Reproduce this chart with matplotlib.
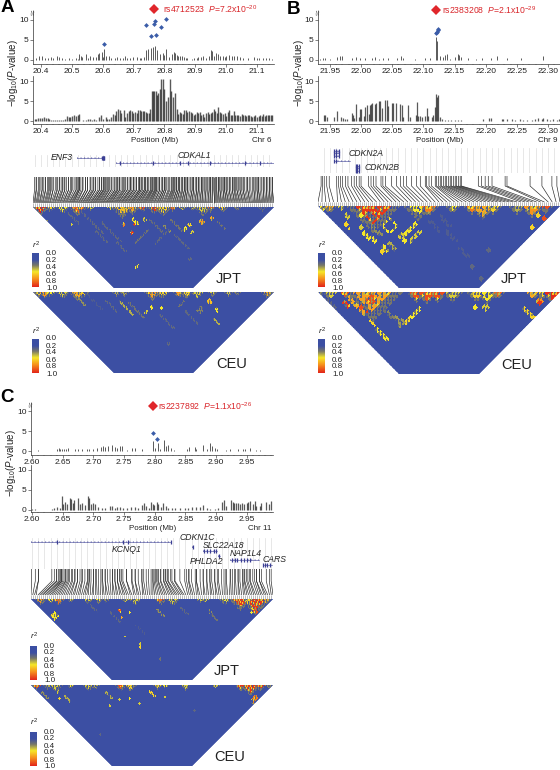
import numpy as np
import matplotlib
matplotlib.use("Agg")
import matplotlib.pyplot as plt
from matplotlib.colors import LinearSegmentedColormap
from matplotlib.collections import LineCollection
from matplotlib.patches import Polygon
from matplotlib.ticker import MultipleLocator, FormatStrFormatter

plt.rcParams['font.family'] = ['Liberation Sans', 'DejaVu Sans']
plt.rcParams['mathtext.fontset'] = 'custom'
plt.rcParams['mathtext.rm'] = 'Liberation Sans'
plt.rcParams['mathtext.it'] = 'Liberation Sans:italic'
plt.rcParams['axes.linewidth'] = 0.5

# ---------- association values ----------
A_top_pos = [20.385,20.395,20.405,20.415,20.425,20.432,20.44,20.452,20.46,20.47,20.478,20.49,20.50,20.515,20.522,20.525,20.53,20.535,20.545,20.552,20.56,20.57,20.578,20.585,20.59,20.597,20.603,20.606,20.612,20.62,20.628,20.64,20.648,20.655,20.665,20.672,20.68,20.69,20.70,20.71,20.72,20.725,20.735,20.74,20.747,20.757,20.762,20.77,20.775,20.785,20.795,20.80,20.805,20.815,20.825,20.83,20.835,20.84,20.845,20.85,20.858,20.865,20.87,20.875,20.89,20.895,20.905,20.91,20.92,20.925,20.935,20.945,20.95,20.955,20.96,20.968,20.975,20.98,20.99,20.995,21.0,21.01,21.02,21.027,21.035,21.045,21.055,21.07,21.09,21.10,21.105,21.12,21.13,21.14,21.15]
A_top_h = [.4,.9,1.0,.5,.6,.7,.6,.9,.7,.5,.3,.5,.2,.6,.3,1.6,.9,.7,1.5,.5,.9,.7,.8,1.5,1.7,2.1,.8,2.8,1.0,.9,.6,.6,.7,.5,.6,.9,.5,.4,.8,.7,.6,.4,.8,2.5,2.8,2.9,3.2,3.4,2.4,1.5,1.8,1.2,2.7,.8,1.6,2.0,1.8,1.3,1.1,.9,1.0,.8,.6,.4,.3,.4,.6,.8,.7,1.0,.5,.9,2.4,2.2,1.0,1.8,1.5,.9,1.0,.8,1.1,1.3,.9,1.1,1.0,.7,.5,.4,.7,.4,.6,.4,.6,.4,.3]
A_dia_pos = [20.606,20.741,20.758,20.768,20.771,20.773,20.79,20.805]
A_dia_h = [4.0,8.7,6.0,9.0,9.7,6.2,8.3,10.2]
A_bot_pos = [20.38,20.386,20.392,20.398,20.404,20.41,20.416,20.422,20.428,20.434,20.44,20.447,20.454,20.46,20.466,20.472,20.478,20.484,20.49,20.496,20.502,20.508,20.514,20.52,20.525,20.537,20.545,20.552,20.56,20.566,20.572,20.578,20.59,20.596,20.602,20.61,20.616,20.622,20.628,20.634,20.64,20.645,20.65,20.655,20.66,20.668,20.674,20.68,20.686,20.69,20.695,20.70,20.705,20.71,20.716,20.72,20.725,20.73,20.735,20.74,20.745,20.75,20.755,20.76,20.764,20.768,20.772,20.776,20.78,20.785,20.79,20.795,20.80,20.806,20.812,20.818,20.823,20.828,20.833,20.84,20.845,20.85,20.855,20.86,20.865,20.87,20.875,20.88,20.885,20.89,20.895,20.90,20.905,20.91,20.915,20.92,20.925,20.93,20.935,20.94,20.945,20.95,20.955,20.96,20.965,20.97,20.975,20.98,20.985,20.99,20.995,21.0,21.005,21.01,21.015,21.02,21.025,21.03,21.035,21.04,21.045,21.05,21.055,21.06,21.065,21.07,21.075,21.08,21.085,21.09,21.095,21.10,21.105,21.11,21.115,21.12,21.125,21.13,21.135,21.14,21.145,21.15]
A_bot_h = [.4,.6,.7,.8,.8,.9,.8,.8,.5,.3,.2,.2,.3,.2,.3,.3,.5,1.2,1.0,.9,1.3,1.4,1.2,1.6,1.7,.3,.3,.4,.4,.3,.4,.3,1.0,1.5,.4,.9,.6,.4,.9,1.7,1.4,2.5,3.0,2.7,2.0,2.8,1.0,2.0,2.4,2.7,2.4,1.9,2.3,2.0,2.8,2.8,2.6,2.5,2.5,2.3,2.0,1.9,3.0,7.5,7.5,7.5,7.5,6.5,7.0,8.0,10.5,10.5,8.0,5.0,6.0,10.5,7.4,6.0,7.0,3.0,1.7,2.3,2.0,1.7,2.8,2.7,2.3,2.4,2.2,2.1,1.4,1.7,2.2,1.9,2.2,1.6,1.8,.9,2.0,2.3,1.8,2.0,2.2,3.0,2.4,2.0,3.5,2.2,2.0,1.7,2.1,1.3,2.3,2.8,1.5,1.4,2.5,1.6,1.4,1.6,1.2,1.7,1.4,1.5,1.3,1.6,1.4,1.2,1.1,1.2,1.4,1.0,1.3,1.5,1.2,1.7,1.3,1.6,1.4,1.5,1.4,1.6]

B_top_pos = [21.935,21.939,21.943,21.95,21.961,21.967,21.970,21.985,21.992,21.999,22.007,22.017,22.023,22.028,22.036,22.044,22.057,22.064,22.068,22.087,22.103,22.111,22.120,22.122,22.127,22.131,22.135,22.138,22.143,22.151,22.155,22.157,22.161,22.171,22.185,22.194,22.208,22.218,22.234,22.257,22.291]
B_top_h = [.3,.4,.4,.2,.8,.9,1.1,.6,.7,.5,.4,.5,.7,.3,.5,.5,.5,.9,.5,.2,.4,.5,5.7,4.8,1.1,.8,1.3,1.6,.3,.7,1.6,1.2,.7,.4,.3,.6,.5,1.1,.4,.5,.9]
B_dia_pos = [22.120,22.122,22.123,22.124]
B_dia_h = [6.7,7.0,7.4,7.7]
B_bot_pos = [21.940,21.943,21.945,21.956,21.962,21.968,21.971,21.975,21.977,21.985,21.987,21.989,21.992,21.996,21.999,22.000,22.004,22.007,22.009,22.012,22.015,22.016,22.018,22.022,22.024,22.028,22.031,22.034,22.038,22.041,22.044,22.049,22.052,22.056,22.063,22.065,22.068,22.076,22.079,22.088,22.090,22.092,22.095,22.098,22.103,22.105,22.108,22.113,22.116,22.119,22.120,22.122,22.124,22.126,22.130,22.135,22.140,22.145,22.151,22.156,22.161,22.196,22.205,22.208,22.226,22.228,22.234,22.242,22.247,22.255,22.260,22.266,22.274,22.279,22.284,22.290,22.292,22.298,22.303,22.308,22.314,22.318]
B_bot_h = [1.4,1.4,1.0,.9,2.6,.9,.7,.6,.5,1.9,1.5,.8,4.3,1.0,3.0,2.9,1.2,3.4,4.0,1.8,4.0,4.3,4.4,4.2,4.6,5.0,5.0,3.2,5.2,5.2,3.8,4.6,4.4,4.4,4.2,4.0,1.0,4.0,1.0,1.4,4.7,1.3,1.2,1.1,1.3,3.2,1.3,1.1,1.5,3.5,6.8,6.0,6.6,1.0,.4,.3,.2,.2,.2,.3,.2,.5,.7,.7,.6,.5,.4,.4,.3,.4,.3,.3,.2,.5,.7,.5,.8,.5,.3,.5,.2,.5]
B_snps = [21.936,21.938,21.941,21.945,21.949,21.961,21.964,21.967,21.970,21.975,21.979,21.985,21.989,21.993,21.997,22.000,22.012,22.016,22.020,22.024,22.032,22.035,22.039,22.049,22.057,22.063,22.068,22.073,22.081,22.089,22.095,22.103,22.105,22.109,22.113,22.119,22.121,22.124,22.127,22.129,22.132,22.135,22.137,22.140,22.143,22.145,22.148,22.151,22.153,22.156,22.159,22.161,22.188,22.193,22.199,22.204,22.210,22.231,22.234,22.271,22.290,22.306,22.314]

C_top_pos = [2.610,2.640,2.643,2.646,2.648,2.652,2.655,2.659,2.670,2.674,2.681,2.690,2.693,2.700,2.705,2.712,2.715,2.719,2.723,2.731,2.735,2.739,2.743,2.746,2.754,2.763,2.768,2.779,2.797,2.801,2.805,2.809,2.815,2.818,2.821,2.826,2.832,2.852,2.856,2.866,2.868,2.879,2.885,2.890,2.893,2.898,2.902,2.916,2.923,2.936,2.944,2.947,2.955,2.966,2.971]
C_top_h = [.2,.5,.8,.6,.5,.6,.6,.7,.5,.6,.5,.4,.6,.6,.7,1.0,1.2,1.0,1.2,1.6,.9,.8,1.2,1.2,.3,.7,.8,.5,2.4,.8,1.9,.6,2.7,1.2,1.5,.8,.3,.5,.9,.9,.5,1.4,.4,1.9,1.3,.8,.5,.3,.4,.4,.5,.5,.8,.3,.2]
C_dia_pos = [2.797,2.804]
C_dia_h = [4.6,3.0]
C_bot_pos = [2.599,2.605,2.610,2.632,2.636,2.640,2.645,2.648,2.650,2.654,2.657,2.661,2.664,2.666,2.669,2.674,2.678,2.682,2.686,2.691,2.693,2.696,2.700,2.703,2.708,2.714,2.719,2.727,2.731,2.735,2.739,2.743,2.748,2.754,2.762,2.768,2.773,2.779,2.782,2.786,2.790,2.794,2.797,2.799,2.803,2.806,2.810,2.814,2.818,2.822,2.828,2.833,2.841,2.849,2.855,2.860,2.868,2.874,2.879,2.885,2.890,2.898,2.904,2.909,2.913,2.917,2.924,2.927,2.930,2.932,2.936,2.939,2.943,2.946,2.950,2.952,2.956,2.960,2.963,2.966,2.971,2.974,2.982,2.987,2.990]
C_bot_h = [.3,.2,.1,.3,.4,.7,.5,3.6,1.6,2.0,1.6,2.9,2.8,1.7,2.5,2.9,1.4,1.7,1.2,3.4,2.9,1.5,1.8,1.4,.8,.4,.6,.9,.9,.6,.7,.7,.4,.5,.8,.7,.5,1.2,1.7,.9,.6,1.9,1.6,1.3,2.0,1.5,.7,1.8,1.0,.6,.5,.4,.4,.5,.5,.7,.7,.8,1.2,.6,.3,.3,.4,2.0,2.5,1.0,2.5,2.0,1.8,1.7,1.7,1.6,1.7,1.4,1.8,2.1,2.2,1.4,2.2,1.0,1.0,1.8,1.9,1.6,2.2]

# ---------- genes: name, start, end, exons, row ----------
A_genes = [("ENF3",20.517,20.605,[20.598,20.600,20.602,20.604,20.605],158),
           ("CDKAL1",20.644,21.155,[20.657,20.763,20.851,20.878,20.949,21.062,21.11],163)]
B_genes = [("",21.957,21.964,[21.957,21.960,21.964],150.7),("",21.957,21.964,[21.957,21.960,21.964],153.3),
           ("",21.957,21.964,[21.957,21.960,21.964],156),("CDKN2A",21.957,21.983,[21.957,21.960],160.7),
           ("",21.992,21.997,[21.992,21.994,21.997],165.7),("",21.992,21.997,[21.992,21.994,21.997],168.3),
           ("CDKN2B",21.992,21.997,[21.992,21.994,21.997],171)]
C_genes = [("KCNQ1",2.598,2.826,[2.641,2.748,2.756,2.826],542),("CDKN1C",2.861,2.863,[2.862],547),
           ("SLC22A18",2.878,2.902,[2.880,2.886,2.890,2.897,2.900],551),("PHLDA2",2.904,2.906,[2.905],556),
           ("NAP1L4",2.923,2.970,[2.926,2.931,2.935,2.940,2.946,2.951,2.956],560),
           ("CARS",2.977,2.992,[2.977,2.980,2.983,2.988],565)]

# ---------- LD blocks: (mid, size, r2) triangles on the top edge, (mid, sep, a, b, r2) rectangles ----------
A_jpt_tri = [(8,8,1.0),(18,4,.6),(30,6,.55),(45,8,.85),(58,3,.5),(78,3,.5),(90,10,.65),(100,6,.75),(110,4,.9),(122,6,.95),(131,8,.6),(140,4,.9),(150,3,.5),(160,3,.5),(170,8,.5),(178,4,.85),(190,4,.6),(205,3,.4),(230,4,.3)]
A_jpt_rect = [(104,15,3,8,.55),(102,18,2,2,.95),(100,25,3,3,.95),(92,17,3,3,.8),(112,12,3,4,.5),(154,22,4,3,.55),(158,18,3,4,.6),(160,26,4,2,.5),(170,15,4,5,.75),(180,12,3,3,.7),(135,22,2,8,.4),(60,15,1,25,.3),(80,25,1,20,.3),(40,10,1,14,.3),(110,30,14,1,.35),(130,30,14,1,.3),(150,35,1,15,.3),(105,60,4,1,.55),(158,52,3,3,.3),(90,40,1,10,.3),(15,14,1,1,.4),(40,18,1,1,.5),(70,30,1,12,.3),(125,20,1,16,.32),(145,18,1,12,.35),(190,18,1,8,.35)]
A_ceu_tri = [(6,5,.6),(12,5,.75),(18,4,.55),(30,6,.5),(46,8,.7),(52,3,.6),(84,4,.45),(92,4,.45),(120,8,.75),(130,6,.6),(146,5,.75),(154,6,.6),(165,6,.5),(180,4,.5),(196,3,.5),(205,3,.4),(235,5,.7)]
A_ceu_rect = [(178,10,4,5,.65),(185,18,3,4,.55),(168,18,6,5,.38),(150,12,6,1,.35),(105,18,1,16,.35),(95,16,1,14,.45),(115,20,3,1,.5),(120,15,3,3,.55),(130,16,2,2,.55),(50,10,1,8,.4),(135,30,1,14,.3),(137,51,3,3,.3),(60,8,1,20,.25),(185,30,2,8,.45),(160,25,1,14,.3),(80,14,1,12,.3)]
B_jpt_tri = [(5,4,.55),(12,5,.7),(24,3,.5),(55,24,.95),(100,12,.55),(110,8,.8),(135,6,.55),(155,6,.8),(165,12,.7),(175,6,.6),(200,6,.45),(215,10,.75),(228,6,.9)]
B_jpt_rect = [(73,19,12,12,.55),(73,19,8,8,.1),(85,30,6,6,.5),(88,35,3,3,.55),(30,18,1,1,.6),(33,22,2,2,.6),(45,22,3,3,.5),(50,30,1,8,.55),(57,32,1,6,.55),(65,45,3,1,.6),(70,42,1,6,.55),(77,40,1,8,.45),(95,22,12,1,.55),(100,30,12,1,.5),(45,10,3,3,.55),(30,10,1,5,.5),(55,10,1,8,.35),(60,25,1,12,.4),(155,60,4,3,.3),(165,72,4,3,.3),(172,44,1,3,.3),(130,15,1,12,.25),(118,20,1,12,.25),(135,30,1,12,.25),(148,45,1,10,.25),(217,21,3,3,.6),(228,12,4,4,.9),(222,8,3,3,.6)]
B_ceu_tri = [(3,3,.4),(13,5,.5),(28,4,.9),(55,26,.72),(100,8,.9),(110,10,.9),(120,8,.9),(135,8,.5),(160,8,.6),(170,10,.55),(180,6,.85),(215,5,.7),(225,6,.6),(236,10,.98)]
B_ceu_rect = [(55,8,8,8,.9),(223,10,6,6,.75),(223,10,3,3,.95),(215,24,1,18,.6),(70,18,1,14,.35),(74,22,2,16,.4),(78,26,2,14,.38),(82,28,2,12,.42),(85,30,5,5,.42),(85,32,8,3,.42),(40,13,1,18,.7),(30,12,1,6,.95),(50,20,2,2,.95),(45,15,1,3,.9),(57,30,2,8,.6),(65,42,1,12,.55),(15,12,1,12,.3),(95,25,12,1,.6),(100,20,10,1,.55),(170,15,5,5,.5),(160,15,4,3,.55)]
C_jpt_tri = [(10,5,.75),(20,4,.55),(28,5,.85),(40,3,.5),(58,4,.5),(68,4,.55),(75,3,.4),(95,3,.5),(105,5,.5),(130,5,.85),(142,6,.5),(170,3,.5),(175,3,.5),(195,5,.55),(210,10,.95),(225,14,.95),(217,6,.6),(235,4,.7)]
C_jpt_rect = [(25,16,4,6,.55),(22,17,3,3,.6),(25,18,5,5,.55),(90,12,2,3,.9),(92,18,1,2,.7),(100,14,2,2,.55),(225,12,3,6,.9),(222,10,2,2,.6),(222,14,2,2,.55),(180,13,3,3,.4),(62,8,1,12,.3),(85,18,1,12,.3),(130,14,2,10,.4),(155,12,1,8,.3),(185,18,1,6,.35),(95,37,1,1,.5),(110,45,1,1,.5),(110,48,1,1,.6),(110,30,1,10,.25),(130,60,1,1,.35)]
C_ceu_tri = [(6,4,.9),(18,4,.45),(25,6,.5),(40,3,.55),(58,5,.5),(65,4,.45),(90,5,.9),(100,5,.6),(127,4,.6),(135,3,.55),(155,4,.5),(185,3,.5),(210,5,.95),(220,10,.95),(230,5,.95),(238,3,.4)]
C_ceu_rect = [(28,6,3,3,.5),(38,14,1,6,.45),(30,14,1,1,.6),(15,10,1,8,.4),(78,10,1,8,.45),(90,14,1,1,.5),(100,13,1,1,.55),(135,12,2,2,.5),(123,9,1,6,.6),(225,14,6,4,.8),(225,20,1,6,.4),(80,20,1,1,.5),(110,18,1,1,.5),(70,50,1,1,.3),(165,25,1,1,.3)]
ld_texture = [[1,.3,1,1,.5,1,.6],[.4,1,.6,1,1,.2,1],[1,1,.3,.7,1,1,.4],[.6,.2,1,1,.4,1,1],[1,1,.6,.3,1,.5,1],[.3,1,1,1,.6,1,.2],[1,.6,.3,1,1,.4,1]]

cbar_ticks = [0.0, 0.2, 0.4, 0.6, 0.8, 1.0]

W, H = 560, 770
fig = plt.figure(figsize=(5.6, 7.7), dpi=100)
ldmap = LinearSegmentedColormap.from_list("ld", [(0, "#3C4FA3"), (.2, "#3C4FA3"), (.36, "#77776A"),
    (.55, "#F6E829"), (.75, "#F7941D"), (1, "#E2231A")])
BLUE = "#3B3F94"
TEX = np.array(ld_texture)
BASE = 0.08

def axpx(x0, y0, x1, y1):
    return fig.add_axes([x0/W, 1-y1/H, (x1-x0)/W, (y1-y0)/H])

def assoc(box, xlim, pos, h, step, fmt, ylim, lw, dia=None):
    ax = axpx(*box)
    ax.patch.set_alpha(0)
    ax.vlines(pos, 0, h, colors="#000000", alpha=.65, lw=lw)
    ax.set_xlim(*xlim); ax.set_ylim(*ylim)
    for s in ("top", "right"):
        ax.spines[s].set_visible(False)
    for s in ("left", "bottom"):
        ax.spines[s].set_color("#333333")
    ax.xaxis.set_major_locator(MultipleLocator(step))
    ax.xaxis.set_minor_locator(MultipleLocator(step/5))
    ax.xaxis.set_major_formatter(FormatStrFormatter(fmt))
    ax.set_yticks([0, 5, 10])
    ax.tick_params(axis="both", which="major", labelsize=6, length=2, width=.4, pad=1.2, colors="#222222")
    ax.tick_params(axis="x", which="minor", length=1, width=.3, color="#333333")
    if dia:
        ax.scatter(dia[0], dia[1], marker="D", s=6, color="#3A5CA8", lw=0, zorder=3)
    return ax

def gene_track(box, xlim, genes, step, labels):
    ax = axpx(*box)
    ax.set_xlim(*xlim); ax.set_ylim(box[3], box[1])
    for s in ax.spines.values():
        s.set_visible(False)
    ax.set_yticks([])
    ax.xaxis.set_major_locator(MultipleLocator(step))
    ax.tick_params(axis="x", length=0, labelbottom=False)
    ax.grid(axis="x", color="#DDDDDD", lw=.5)
    ax.set_axisbelow(True)
    for name, a, b, ex, row in genes:
        ax.plot([a, b], [row, row], color=BLUE, lw=.4)
        ax.plot([a, b], [row, row], color=BLUE, lw=1.1, ls=(0, (.7, 1.6)), alpha=.55)
        ax.plot(ex, [row]*len(ex), ls="", marker="|", ms=3.2, mew=.9, color=BLUE)
    for t, x, y in labels:
        ax.text(x, y, t, style="italic", fontsize=6.2, color="#222222", ha="center", va="center", clip_on=False)
    return ax

def connectors(box, xlim, snps, rows):
    ax = axpx(*box)
    ax.set_xlim(*xlim); ax.set_ylim(box[3], box[1]); ax.axis("off")
    snps = np.sort(np.asarray(snps))
    even = np.linspace(xlim[0], xlim[1], len(snps))
    ticks = np.linspace(xlim[0], xlim[1], 121)
    ax.add_collection(LineCollection([[(t, rows[1]), (t, box[3])] for t in ticks], colors="#BBBBBB", lw=.7))
    segs = [[(s, box[1]), (s, rows[0]), (e, rows[1])] for s, e in zip(snps, even)]
    ax.add_collection(LineCollection(segs, colors="#222222", lw=.45))

def ldplot(box, tris, rects, s, maxsep=81):
    ax = axpx(*box)
    R = box[2]-box[0]
    ax.set_xlim(0, R); ax.set_ylim(maxsep, 0); ax.axis("off")
    N = int(R/(2*s))+2
    Z = np.full((N, N), np.nan)
    I, J = np.meshgrid(np.arange(N), np.arange(N), indexing="ij")
    Z[(J >= I) & ((J-I)*s <= maxsep+s)] = BASE
    def put(i0, i1, j0, j1, v, texture=True):
        for i in range(max(0, i0), min(N, i1)):
            for j in range(max(i, j0), min(N, j1)):
                if (j-i)*s <= maxsep+s:
                    t = TEX[i % 7, j % 7] if texture else 1
                    Z[i, j] = BASE + (v-BASE)*t
    for mid, size, v in tris:       # dim halo below each block
        c = mid/(2*s)
        h = size*1.1/(2*s)
        put(int(round(c-h)), int(round(c+h))+1, int(round(c-h)), int(round(c+h))+1, min(v, .36))
    for mid, size, v in tris:
        c = mid/(2*s)
        h = max(1, size*.7)/(2*s)
        put(int(round(c-h)), int(round(c+h))+1, int(round(c-h)), int(round(c+h))+1, v)
    for mid, sep, a, b, v in rects:
        ci, cj = (mid-sep)/(2*s), (mid+sep)/(2*s)
        if a > 1 and b > 1:
            na, nb = max(1, int(round(a*.8/s))), max(1, int(round(b*.8/s)))
        else:
            na = int(round(a/s)) if a > 1 else 2
            nb = int(round(b/s)) if b > 1 else 2
        i0, j0 = int(round(ci-na/2)), int(round(cj-nb/2))
        put(i0, i0+na, j0, j0+nb, v, texture=(na*nb > 4 and v > .11))
    VI, VJ = np.meshgrid(np.arange(N+1), np.arange(N+1), indexing="ij")
    m = ax.pcolormesh((VI+VJ)*s-s, (VJ-VI)*s, np.ma.masked_invalid(Z), cmap=ldmap, vmin=0, vmax=1, antialiased=False, linewidth=0)
    m.set_clip_path(Polygon([(0, 0), (R, 0), (R-maxsep, maxsep), (maxsep, maxsep)], transform=ax.transData))
    return ax

def colorbar(x0, y0, y1, label_y):
    ax = axpx(x0, y0, x0+7, y1)
    ax.imshow(np.linspace(0, 1, 256)[:, None], cmap=ldmap, vmin=0, vmax=1, aspect="auto", extent=(0, 1, 1, 0.05))
    ax.set_ylim(1, 0)
    ax.set_xticks([])
    ax.yaxis.tick_right()
    ax.set_yticks(cbar_ticks)
    ax.set_yticklabels(["%.1f" % v for v in cbar_ticks])
    ax.tick_params(axis="y", labelsize=5.8, length=0, pad=5, colors="#222222")
    for sp in ax.spines.values():
        sp.set_visible(False)
    fig.text((x0+4)/W, 1-label_y/H, r"$r^{2}$", fontsize=6, color="#222222", ha="center", va="center")

def ftext(x, y, s, **kw):
    kw.setdefault("ha", "center"); kw.setdefault("va", "center"); kw.setdefault("color", "#222222")
    fig.text(x/W, 1-y/H, s, **kw)

def panel(letter, lx, ly, x0, x1, xlim, step, fmt, top, bot, dia, red_pos, red_txt, rows, genes, gene_box, gene_labels,
          chrom, snps, conn, conn_rows, ld1, ld2, cell, bars, red_x, red_y, lab_x, bot_lw):
    ftext(lx, ly, letter, fontsize=13.5, fontweight="bold", color="black")
    t0, t1, t2 = rows[0]
    a1 = assoc((x0, t0, x1, t2), xlim, top[0], top[1], step, fmt, ((t1-t2)/4, (t1-t0)/4), .7, dia=dia)
    a1.plot([red_pos], [(t1-red_y)/4], marker="D", ms=5.6, color="#E0262B", mew=0, clip_on=False, zorder=5)
    a1.text(0, (t1-t0-3)/4, "//", transform=a1.get_yaxis_transform(), fontsize=5, color="#333333", ha="center", va="center", clip_on=False, rotation=10)
    ftext(red_x, red_y, red_txt, fontsize=6.2, color="#D9262B", ha="left")
    b0, b1, b2 = rows[1]
    assoc((x0, b0, x1, b2), xlim, bot[0], bot[1], step, fmt, ((b1-b2)/4, (b1-b0)/4), bot_lw)
    ftext(lab_x, (t0+b2)/2+6, r"$-$log$_{10}$($P$-value)", fontsize=7, rotation=90)
    ftext((x0+x1)/2+1, b2+17, "Position (Mb)", fontsize=5.8)
    ftext(x1-2, b2+17, chrom, fontsize=5.8, ha="right")
    gene_track(gene_box, xlim, genes, step/5, gene_labels)
    connectors(conn, xlim, snps, conn_rows)
    for (box, tri, rect), (cb0, cb1, ly2), nm, dx in zip((ld1, ld2), bars, ("JPT", "CEU"), (196, 199)):
        ldplot(box, tri, rect, cell)
        colorbar(x0-1 if x0 < 100 else x0, cb0, cb1, ly2)
        ftext(x0+dx, box[3]-9, nm, fontsize=10.5)

panel("A", 7, 8, 33, 274, (20.375, 21.155), .1, "%.1f", (A_top_pos, A_top_h), (A_bot_pos, A_bot_h),
      (A_dia_pos, A_dia_h), 20.767, r"rs4712523  $P$=7.2x10$^{-20}$", ((11, 60, 64), (76, 121, 124)),
      A_genes, (33, 155, 274, 167), [("ENF3", 20.469, 158), ("CDKAL1", 20.896, 156)], "Chr 6",
      A_top_pos+A_bot_pos, (33, 177, 274, 207), (190, 203),
      ((33, 207, 274, 288), A_jpt_tri, A_jpt_rect), ((33, 292, 274, 373), A_ceu_tri, A_ceu_rect), .8,
      ((252, 287, 245), (338, 373, 331)), 163, 9, 13, 1.0)

panel("B", 294, 9, 318, 560, (21.931, 22.319), .05, "%.2f", (B_top_pos, B_top_h), (B_bot_pos, B_bot_h),
      (B_dia_pos, B_dia_h), 22.120, r"rs2383208  $P$=2.1x10$^{-29}$", ((11, 60, 64), (76, 121, 124)),
      B_genes, (318, 148, 560, 173), [("CDKN2A", 22.008, 154), ("CDKN2B", 22.034, 168)], "Chr 9",
      B_snps, (318, 176, 560, 206), (186, 202),
      ((318, 206, 560, 288), B_jpt_tri, B_jpt_rect), ((318, 292, 560, 374), B_ceu_tri, B_ceu_rect), 1.5,
      ((252, 287, 245), (338, 373, 331)), 442, 10, 299, .9)

panel("C", 7, 398, 31, 273, (2.598, 2.993), .05, "%.2f", (C_top_pos, C_top_h), (C_bot_pos, C_bot_h),
      (C_dia_pos, C_dia_h), 2.797, r"rs2237892  $P$=1.1x10$^{-26}$", ((403, 451, 455), (465, 510, 512)),
      C_genes, (31, 538, 273, 569), [("KCNQ1", 2.754, 550), ("CDKN1C", 2.870, 538), ("SLC22A18", 2.912, 545),
      ("PHLDA2", 2.884, 562), ("NAP1L4", 2.948, 554), ("CARS", 2.995, 559)], "Chr 11",
      C_top_pos+C_bot_pos, (31, 569, 273, 599), (581, 595),
      ((31, 599, 273, 680), C_jpt_tri, C_jpt_rect), ((31, 685, 273, 766), C_ceu_tri, C_ceu_rect), .8,
      ((645, 680, 636), (731, 766, 722)), 158, 406, 11, .9)

fig.savefig("out.png", dpi=100)
